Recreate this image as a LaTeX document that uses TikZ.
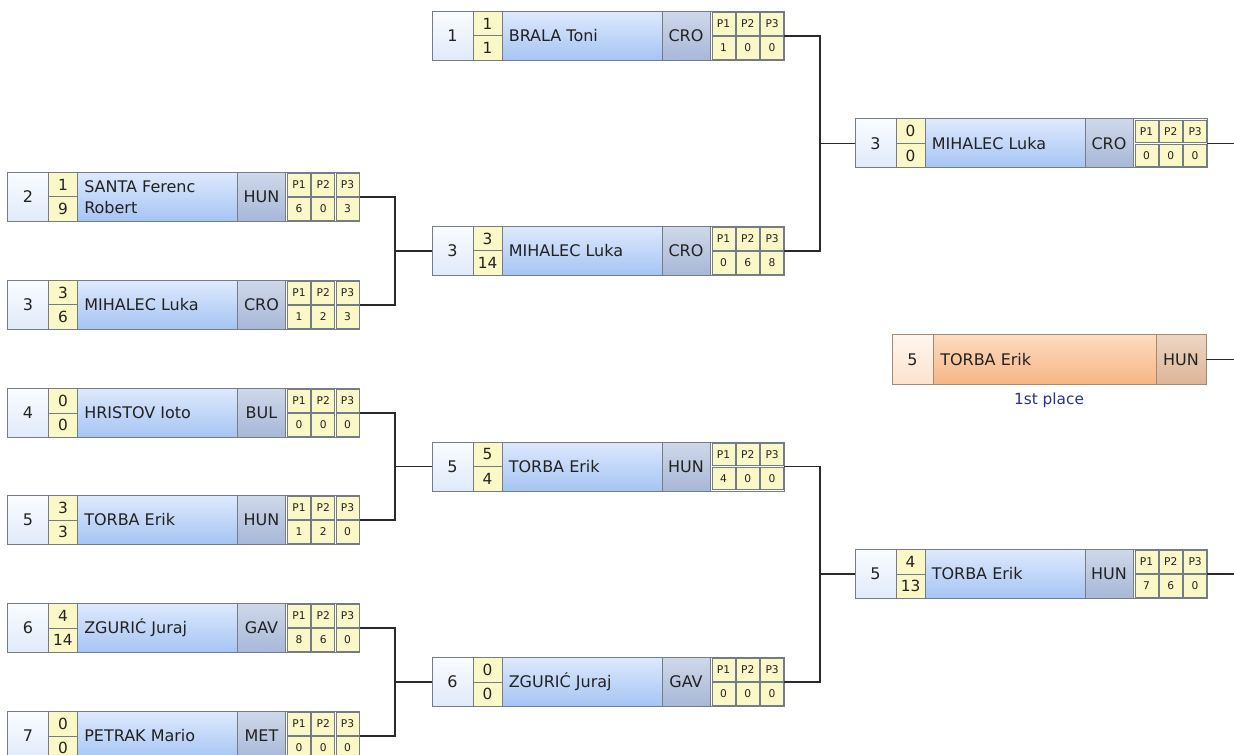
\documentclass[tikz,border=0pt]{standalone}
\usepackage{fontspec}
\setmainfont{DejaVu Sans}
\usetikzlibrary{shadings,calc}
\definecolor{bord}{HTML}{747C86}
\definecolor{txt}{HTML}{222222}
\definecolor{ylw}{HTML}{FBF8C8}
\definecolor{seedT}{HTML}{FAFCFF}
\definecolor{seedB}{HTML}{E0EAFA}
\definecolor{nameT}{HTML}{DEE9FD}
\definecolor{nameB}{HTML}{A5C4F3}
\definecolor{ctryT}{HTML}{CFD8EA}
\definecolor{ctryB}{HTML}{A7B7D7}
\definecolor{oBord}{HTML}{A48A72}
\definecolor{oSeedT}{HTML}{FFF6EE}
\definecolor{oSeedB}{HTML}{FCE2CE}
\definecolor{oNameT}{HTML}{FCDCC0}
\definecolor{oNameB}{HTML}{F7B585}
\definecolor{oCtryT}{HTML}{EDD5C3}
\definecolor{oCtryB}{HTML}{DDB597}
\definecolor{placec}{HTML}{283090}
\definecolor{connc}{HTML}{2A2A2A}
\tikzset{
 bcell/.style={rectangle, inner sep=0pt, outer sep=0pt, draw=bord, line width=0.75pt, text=txt},
 seedcell/.style={bcell, minimum width=30.75pt, minimum height=36.75pt, top color=seedT, bottom color=seedB, font=\fontsize{12}{14}\selectfont},
 scorecell/.style={bcell, fill=ylw, minimum width=21.75pt, minimum height=18.375pt, font=\fontsize{11.5}{12}\selectfont},
 namecell/.style={bcell, minimum width=120pt, minimum height=36.75pt, top color=nameT, bottom color=nameB},
 ctrycell/.style={bcell, minimum width=36pt, minimum height=36.75pt, top color=ctryT, bottom color=ctryB, font=\fontsize{12}{14}\selectfont},
 pcell/.style={bcell, fill=ylw, minimum width=17.25pt, minimum height=16.875pt, font=\fontsize{8}{9}\selectfont},
 nametext/.style={inner sep=0pt, anchor=west, text=txt, align=left, font=\fontsize{12}{15.75}\selectfont},
 boxframe/.style={rectangle, draw=bord, line width=0.75pt, inner sep=0pt, outer sep=0pt, minimum width=264pt, minimum height=36.75pt},
 obcell/.style={rectangle, inner sep=0pt, outer sep=0pt, draw=oBord, line width=0.75pt, text=txt, minimum height=36.75pt, font=\fontsize{12}{14}\selectfont},
 oseed/.style={obcell, minimum width=30.75pt, top color=oSeedT, bottom color=oSeedB},
 oname/.style={obcell, minimum width=167.25pt, top color=oNameT, bottom color=oNameB},
 octry/.style={obcell, minimum width=37.5pt, top color=oCtryT, bottom color=oCtryB},
 oframe/.style={rectangle, draw=oBord, line width=0.75pt, inner sep=0pt, outer sep=0pt, minimum width=235.5pt, minimum height=36.75pt},
 placetext/.style={inner sep=0pt, text=placec, font=\fontsize{11.5}{13}\selectfont},
 conn/.style={draw=connc, line width=1.2pt},
}
\newcommand\matchbox[9]{%
 \begin{scope}[shift={(#2,#3)}]
  \node[seedcell] (#1-seed) at (20.5,0) {#4};
  \node[scorecell] (#1-s1) at (55.5,-12.25) {#5};
  \node[scorecell] (#1-s2) at (55.5,12.25) {#6};
  \node[namecell] (#1-name) at (150,0) {};
  \node[nametext] (#1-player) at (76.5,0) {#7};
  \node[ctrycell] (#1-ctry) at (254,0) {#8};
  \foreach \v [count=\i] in {#9} {
    \node[pcell] (#1-p\i) at ({267.2+24.3*\i},-12) {P\i};
    \node[pcell] (#1-v\i) at ({267.2+24.3*\i},12) {\v};
  }
  \node[boxframe] (#1) at (176,0) {};
 \end{scope}}
\begin{document}
\begin{tikzpicture}[x=0.75pt,y=-0.75pt]
\useasboundingbox (0,0) rectangle (1234,755);
% round 1
\matchbox{ra}{7.5}{197}{2}{1}{9}{SANTA Ferenc\\Robert}{HUN}{6,0,3}
\matchbox{rb}{7.5}{305}{3}{3}{6}{MIHALEC Luka}{CRO}{1,2,3}
\matchbox{rc}{7.5}{413}{4}{0}{0}{HRISTOV Ioto}{BUL}{0,0,0}
\matchbox{rd}{7.5}{520}{5}{3}{3}{TORBA Erik}{HUN}{1,2,0}
\matchbox{re}{7.5}{628}{6}{4}{14}{ZGURIĆ Juraj}{GAV}{8,6,0}
\matchbox{rf}{7.5}{736}{7}{0}{0}{PETRAK Mario}{MET}{0,0,0}
% round 2
\matchbox{sa}{432}{36}{1}{1}{1}{BRALA Toni}{CRO}{1,0,0}
\matchbox{sb}{432}{251}{3}{3}{14}{MIHALEC Luka}{CRO}{0,6,8}
\matchbox{sc}{432}{466.5}{5}{5}{4}{TORBA Erik}{HUN}{4,0,0}
\matchbox{sd}{432}{682}{6}{0}{0}{ZGURIĆ Juraj}{GAV}{0,0,0}
% round 3
\matchbox{ta}{855}{143.5}{3}{0}{0}{MIHALEC Luka}{CRO}{0,0,0}
\matchbox{tb}{855}{574}{5}{4}{13}{TORBA Erik}{HUN}{7,6,0}
% winner
\begin{scope}[shift={(892,359.5)}]
 \node[oseed] (win-seed) at (20.5,0) {5};
 \node[oname] (win-name) at (152.5,0) {};
 \node[nametext] (win-player) at (48,0) {TORBA Erik};
 \node[octry] (win-ctry) at (289,0) {HUN};
 \node[oframe] (win) at (157,0) {};
 \node[placetext] (win-label) at (157,41) {1st place};
\end{scope}
% joints
\coordinate (j1) at (395,251);
\coordinate (j2) at (395,466.5);
\coordinate (j3) at (395,682);
\coordinate (j4) at (820,143.5);
\coordinate (j5) at (820,574);
\coordinate (e1) at (1234,143.5);
\coordinate (e2) at (1234,574);
\coordinate (e3) at (1234,359.5);
\draw[conn] (ra.east) -| (j1) |- (rb.east);
\draw[conn] (j1) -- (sb.west);
\draw[conn] (rc.east) -| (j2) |- (rd.east);
\draw[conn] (j2) -- (sc.west);
\draw[conn] (re.east) -| (j3) |- (rf.east);
\draw[conn] (j3) -- (sd.west);
\draw[conn] (sa.east) -| (j4) |- (sb.east);
\draw[conn] (j4) -- (ta.west);
\draw[conn] (sc.east) -| (j5) |- (sd.east);
\draw[conn] (j5) -- (tb.west);
\draw[conn] (ta.east) -- (e1);
\draw[conn] (tb.east) -- (e2);
\draw[conn] (win.east) -- (e3);
\end{tikzpicture}
\end{document}
